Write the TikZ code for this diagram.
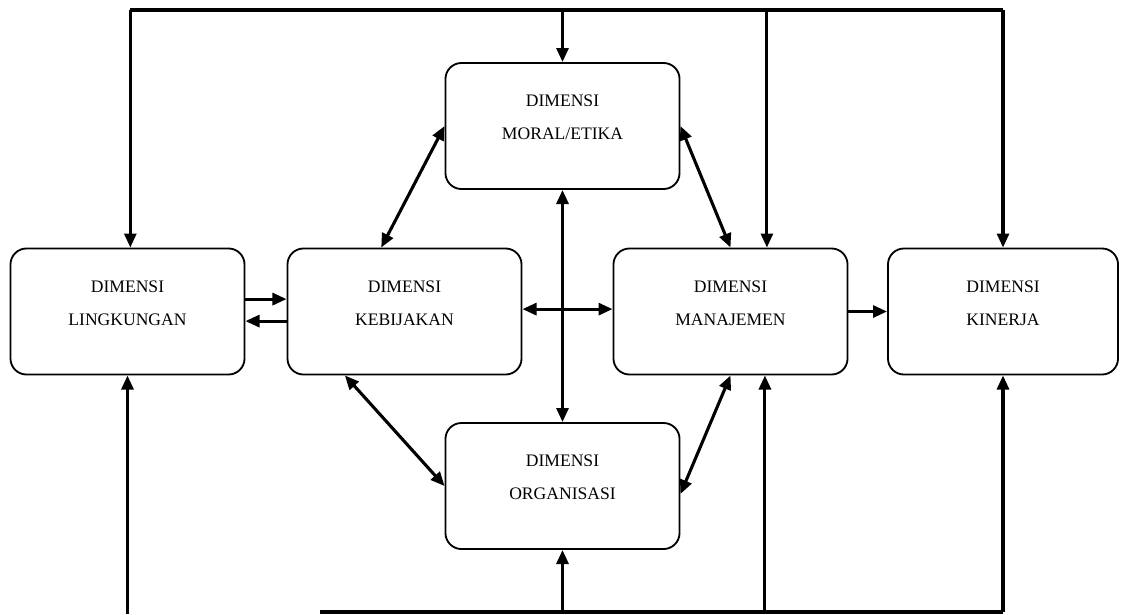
\documentclass[tikz,border=0pt]{standalone}
\usepackage{fontspec}
\setmainfont{Liberation Serif}
\usetikzlibrary{arrows.meta}

\begin{document}
\begin{tikzpicture}[x=0.025cm, y=-0.025cm,
    dimbox/.style={draw, line width=1.3pt, rounded corners=0.4cm, minimum width=5.85cm, minimum height=3.15cm, align=center, text height=31pt, text depth=11.6pt, font=\fontsize{12.5}{23.5}\selectfont},
    conn/.style={line width=2.2pt},
    arr/.style={line width=2.2pt, -{Triangle[length=10pt, width=8.5pt]}},
    darr/.style={line width=2.2pt, {Triangle[length=10pt, width=8.5pt]}-{Triangle[length=10pt, width=8.5pt]}}]
            \useasboundingbox (0,0) rectangle (1122,614);

            % Nodes
            \node[dimbox] (ling) at (127.5, 311.5) {DIMENSI\\LINGKUNGAN};
            \node[dimbox] (keb) at (404.5, 311.5) {DIMENSI\\KEBIJAKAN};
            \node[dimbox] (man) at (730.5, 311.5) {DIMENSI\\MANAJEMEN};
            \node[dimbox, minimum width=5.75cm] (kin) at (1003, 311.5) {DIMENSI\\KINERJA};
            \node[dimbox] (moral) at (562.5, 126) {DIMENSI\\MORAL/ETIKA};
            \node[dimbox] (org) at (562.5, 486) {DIMENSI\\ORGANISASI};

            \coordinate (top) at (0, 10);
            \coordinate (bot) at (0, 612);
            \coordinate (botstart) at (320, 612);

            % Lines
            \draw[conn] ([xshift=2pt]ling.north |- top) -- (kin.north |- top);
            \draw[arr] ([xshift=2pt]ling.north |- top) -- ([xshift=2pt]ling.north);
            \draw[arr] (moral.north |- top) -- (moral.north);
            \draw[arr] ([xshift=0.91cm]man.north |- top) -- ([xshift=0.91cm]man.north);
            \draw[arr] (kin.north |- top) -- (kin.north);

            \draw[conn] (botstart) -- (kin.south |- bot);
            \draw[arr] (ling.south |- 0,614) -- (ling.south);
            \draw[arr] (org.south |- bot) -- (org.south);
            \draw[arr] ([xshift=0.86cm]man.south |- bot) -- ([xshift=0.86cm]man.south);
            \draw[arr] (kin.south |- bot) -- (kin.south);

            \draw[arr] ([yshift=0.31cm]ling.east) -- ([yshift=0.31cm]keb.west);
            \draw[arr] ([yshift=-0.24cm]keb.west) -- ([yshift=-0.24cm]ling.east);
            \draw[darr] ([yshift=0.06cm]keb.east) -- ([yshift=0.06cm]man.west);
            \draw[arr] (man.east) -- (kin.west);

            \draw[darr] (moral.west) -- (keb.110);
            \draw[darr] (moral.east) -- (man.north);
            \draw[darr] (keb.227) -- (org.west);
            \draw[darr] (man.south) -- ([yshift=-0.2cm]org.east);
            \draw[darr] (moral.south) -- (org.north);
        \end{tikzpicture}
\end{document}
